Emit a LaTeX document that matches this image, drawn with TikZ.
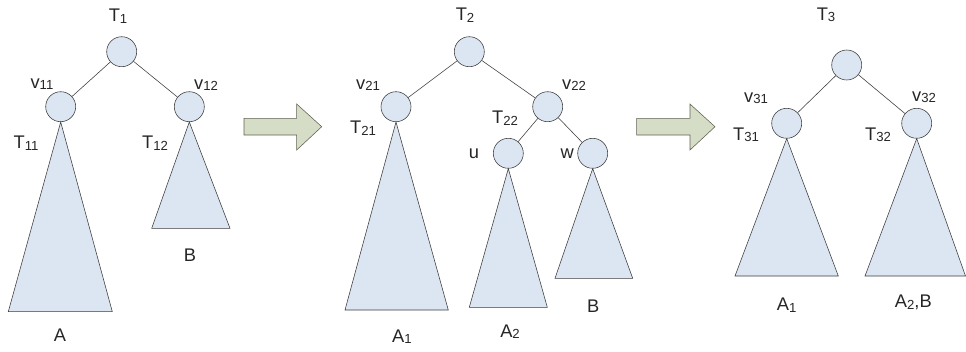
\documentclass[tikz,border=0pt]{standalone}
\usepackage{fontspec}
\setmainfont{Liberation Sans}
\usepackage{tikz}
\usetikzlibrary{positioning, calc}
\definecolor{nodeBlue}{HTML}{DCE6F2}
\definecolor{lineGray}{HTML}{3C3C3C}
\definecolor{arrowFill}{HTML}{D6DDC6}
\definecolor{arrowLine}{HTML}{5E6252}
\newcommand{\ix}[1]{\raisebox{-0.15ex}{\scalebox{0.72}{#1}}}

\begin{document}
\begin{tikzpicture}[
  x=0.025cm, y=-0.025cm,
  vtx/.style={circle, fill=nodeBlue, draw=lineGray, thin, minimum size=0.75cm, inner sep=0pt},
  tri/.style={fill=nodeBlue, draw=lineGray, thin, line join=miter},
  lbl/.style={font=\fontsize{13}{15}\selectfont, inner sep=0pt, text=black!85},
  fatarrow/.style={fill=arrowFill, draw=arrowLine, thin, line join=miter},
  edge/.style={draw=lineGray, thin},
]
  \useasboundingbox (0,0) rectangle (966,351);

  % Tree 1
  \node[vtx] (r1)  at (121.7, 51.7)  {};
  \node[vtx] (v11) at (60.7, 106.7)  {};
  \node[vtx] (v12) at (189.3, 106.7) {};
  \draw[edge] (r1) -- (v11);
  \draw[edge] (r1) -- (v12);
  \draw[tri] (v11.south) -- (112.3, 311.7) -- (8.3, 311.7) -- cycle;
  \draw[tri] (v12.south) -- (230, 228.3) -- (151.7, 228.3) -- cycle;
  \node[lbl] (t1)   at (118, 16)   {T\ix{1}};
  \node[lbl] (lv11) at (42, 84)    {v\ix{11}};
  \node[lbl] (lv12) at (206, 85)   {v\ix{12}};
  \node[lbl] (t11)  at (26, 143)   {T\ix{11}};
  \node[lbl] (t12)  at (155, 143)  {T\ix{12}};
  \node[lbl] (la)   at (60, 335)   {A};
  \node[lbl] (lb)   at (190, 255)  {B};

  % Arrow 1
  \draw[fatarrow] (244, 118.3) -- (296.7, 118.3) -- (296.7, 104) -- (321.7, 126.7)
    -- (296.7, 150) -- (296.7, 135) -- (244, 135) -- cycle;

  % Tree 2
  \node[vtx] (r2)  at (469.3, 51.7)  {};
  \node[vtx] (v21) at (396, 106.7)   {};
  \node[vtx] (v22) at (547.7, 106.7) {};
  \node[vtx] (u)   at (508.3, 153.3) {};
  \node[vtx] (w)   at (592.7, 153.3) {};
  \draw[edge] (r2) -- (v21);
  \draw[edge] (r2) -- (v22);
  \draw[edge] (v22) -- (u);
  \draw[edge] (v22) -- (w);
  \draw[tri] (v21.south) -- (448.3, 310) -- (345, 310) -- cycle;
  \draw[tri] (u.south) -- (547.3, 307.3) -- (469.3, 307.3) -- cycle;
  \draw[tri] (w.south) -- (632.7, 278.3) -- (555, 278.3) -- cycle;
  \node[lbl] (t2)   at (465, 15)    {T\ix{2}};
  \node[lbl] (lv21) at (368, 85)    {v\ix{21}};
  \node[lbl] (lv22) at (574, 85)    {v\ix{22}};
  \node[lbl] (t21)  at (363, 128.3) {T\ix{21}};
  \node[lbl] (t22)  at (505, 118.3) {T\ix{22}};
  \node[lbl] (lu)   at (474, 153.3) {u};
  \node[lbl] (lw)   at (567.3, 153.3) {w};
  \node[lbl] (la1)  at (402, 336.7) {A\ix{1}};
  \node[lbl] (la2)  at (510, 331.5) {A\ix{2}};
  \node[lbl] (lb2)  at (593.3, 306) {B};

  % Arrow 2
  \draw[fatarrow] (636.7, 118.3) -- (690, 118.3) -- (690, 104) -- (715, 126.7)
    -- (690, 150) -- (690, 135) -- (636.7, 135) -- cycle;

  % Tree 3
  \node[vtx] (r3)  at (846.7, 65)    {};
  \node[vtx] (v31) at (786.7, 123.3) {};
  \node[vtx] (v32) at (916.7, 123.3) {};
  \draw[edge] (r3) -- (v31);
  \draw[edge] (r3) -- (v32);
  \draw[tri] (v31.south) -- (838.3, 276) -- (735, 276) -- cycle;
  \draw[tri] (v32.south) -- (965.5, 276) -- (865, 276) -- cycle;
  \node[lbl] (t3)   at (826, 15)    {T\ix{3}};
  \node[lbl] (lv31) at (756, 98.3)  {v\ix{31}};
  \node[lbl] (lv32) at (924, 97)    {v\ix{32}};
  \node[lbl] (t31)  at (746, 135)   {T\ix{31}};
  \node[lbl] (t32)  at (878, 135)   {T\ix{32}};
  \node[lbl] (la31) at (786.7, 305) {A\ix{1}};
  \node[lbl] (la32) at (913.3, 302.7) {A\ix{2},B};
\end{tikzpicture}
\end{document}
